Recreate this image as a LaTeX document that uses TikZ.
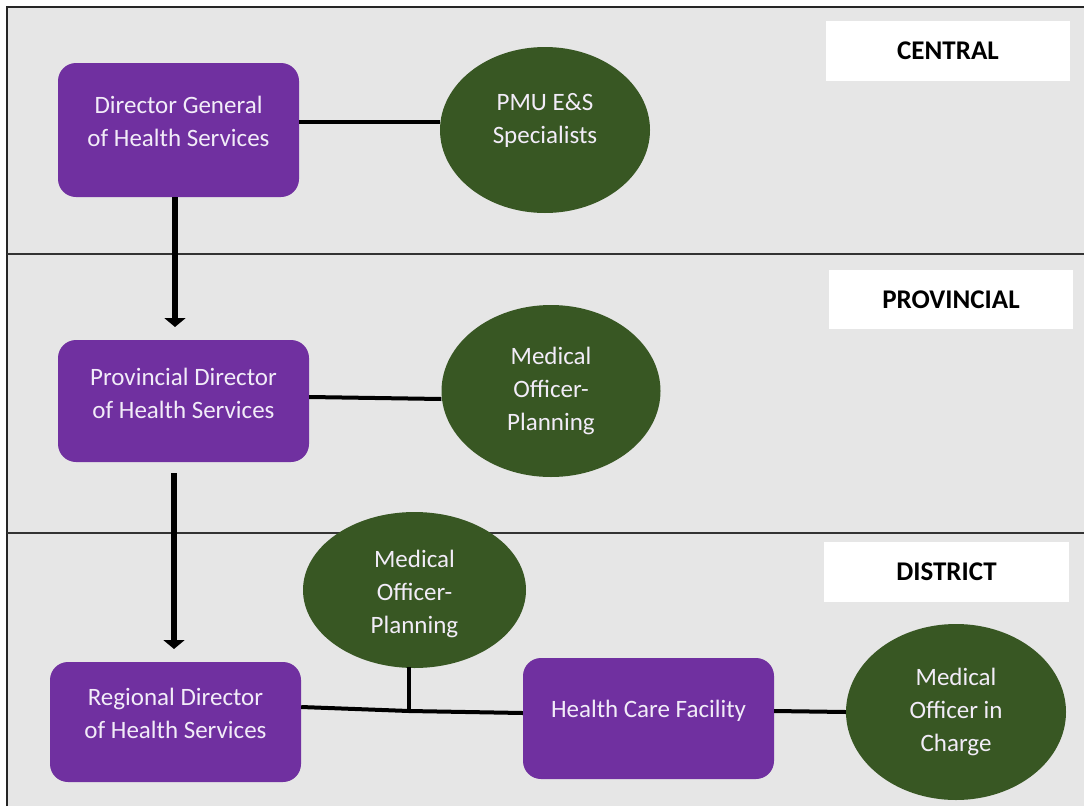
\documentclass[tikz,border=0pt]{standalone}
\usepackage{fontspec}
\setmainfont{Carlito}
\usetikzlibrary{arrows.meta,shapes.geometric,calc}
\definecolor{bgray}{HTML}{E6E6E6}
\definecolor{boxpurple}{HTML}{7030A0}
\definecolor{ovalgreen}{HTML}{385723}
\definecolor{softwhite}{HTML}{F2ECF8}
\tikzset{
  box/.style={draw=none, fill=boxpurple, rounded corners=18pt, inner sep=0pt},
  oval/.style={ellipse, draw=none, fill=ovalgreen, inner sep=0pt},
  boxtext/.style={text=softwhite, align=center, font=\fontsize{25}{33}\selectfont, inner sep=0pt},
  ovaltext/.style={text=softwhite, align=center, font=\fontsize{25}{33}\selectfont, inner sep=0pt},
  levelbox/.style={fill=white, draw=none, inner sep=0pt, font=\bfseries\fontsize{27}{30}\selectfont},
  link/.style={line width=4pt, black},
  down/.style={line width=6.5pt, black, -{Triangle[width=21pt,length=9pt]}},
  layer/.style={line width=1.3pt, black!80}
}
\begin{document}
\begin{tikzpicture}[x=1pt,y=-1pt]
\useasboundingbox (0,0) rectangle (1084,806);
% background and frame
\fill[bgray] (7,7) rectangle (1084,806);
\draw[line width=1.5pt, black!85] (7,806) -- (7,7) -- (1084,7);
\draw[layer] (7,254) -- (1084,254);
\draw[layer] (7,533) -- (1084,533);
% level labels
\node[levelbox, minimum width=244pt, minimum height=60pt] (central) at (948,51) {CENTRAL};
\node[levelbox, minimum width=244pt, minimum height=59pt] (provincial) at (951,299.5) {PROVINCIAL};
\node[levelbox, minimum width=245pt, minimum height=60pt] (district) at (946.5,572) {DISTRICT};
% central
\node[box, minimum width=241pt, minimum height=134pt] (dg) at (178.5,130) {};
\node[boxtext] (dgt) at ($(dg)+(0,-9)$) {Director General\\of Health Services};
\node[oval, minimum width=210pt, minimum height=166pt] (pmu) at (545,130) {};
\node[ovaltext] (pmut) at ($(pmu)+(0,-10)$) {PMU E\&S\\Specialists};
\draw[link] (dg.east |- 0,122) -- (pmu.west |- 0,122);
% provincial
\node[box, minimum width=251pt, minimum height=122pt] (pd) at (183.5,401) {};
\node[boxtext] (pdt) at ($(pd)+(0,-8)$) {Provincial Director\\of Health Services};
\node[oval, minimum width=219pt, minimum height=172pt] (mop1) at (551,391) {};
\node[ovaltext] (mop1t) at (mop1) {Medical\\Officer-\\Planning};
\draw[link] (pd.east |- 0,397) -- (mop1.west |- 0,399);
% district
\node[box, minimum width=251pt, minimum height=120pt] (rd) at (175.5,722) {};
\node[boxtext] (rdt) at ($(rd)+(0,-9)$) {Regional Director\\of Health Services};
\node[oval, minimum width=223pt, minimum height=156pt] (mop2) at (414.5,590) {};
\node[ovaltext] (mop2t) at ($(mop2)+(0,4)$) {Medical\\Officer-\\Planning};
\node[box, minimum width=251pt, minimum height=121pt] (hcf) at (648.5,718.5) {};
\node[boxtext] (hcft) at ($(hcf)+(0,-8)$) {Health Care Facility};
\node[oval, minimum width=220pt, minimum height=176pt] (moic) at (956,712) {};
\node[ovaltext] (moict) at (moic) {Medical\\Officer in\\Charge};
\coordinate (junc) at (409,711);
\draw[link] (rd.east |- 0,707) -- (junc) -- (hcf.west |- 0,713);
\draw[link] (409,667) -- (junc);
\draw[link] (hcf.east |- 0,711) -- (moic.west);
% arrows
\draw[down] (175,197) -- (175,327);
\draw[down] (174,473) -- (174,649);
\end{tikzpicture}
\end{document}
